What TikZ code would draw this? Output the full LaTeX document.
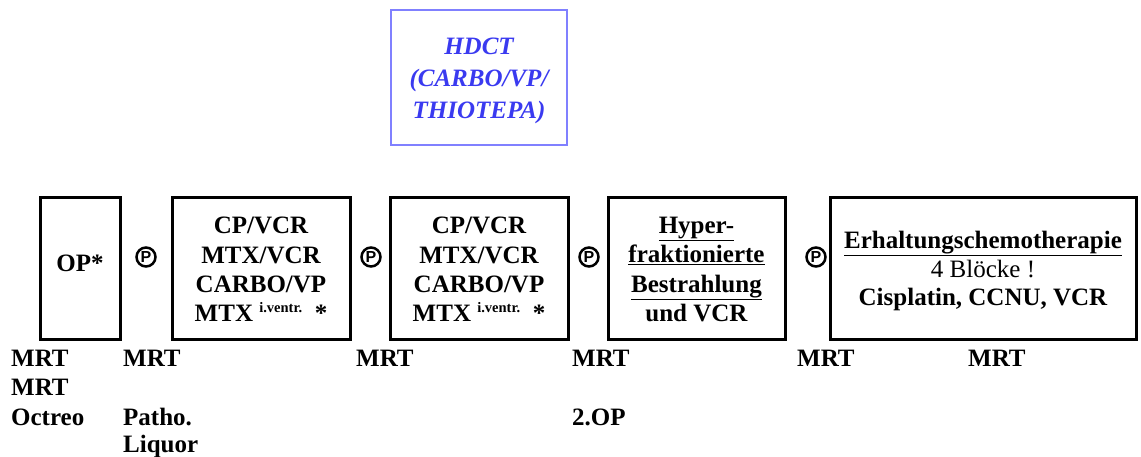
\documentclass[tikz,border=0pt]{standalone}
\usepackage{fontspec}
\setmainfont{Liberation Serif}
\setsansfont{Liberation Sans}
\definecolor{hdblue}{HTML}{3A3AF0}
\definecolor{hdframe}{HTML}{8080FF}
\begin{document}
\begin{tikzpicture}[x=1pt,y=-1pt,
  box/.style={draw=black, line width=3pt, inner sep=0pt, minimum height=142pt},
  boxtext/.style={inner sep=0pt, align=center,
    font=\fontsize{25}{29.3}\selectfont\bfseries},
  pmark/.style={circle, draw=black, line width=2.5pt, minimum size=19pt, inner sep=0pt,
    font=\fontsize{16}{16}\selectfont\sffamily\bfseries},
  lab/.style={anchor=west, inner sep=0pt, align=left,
    font=\fontsize{25}{29.5}\selectfont\bfseries}]
\newcommand{\iventr}{{\fontsize{14.5}{14.5}\selectfont\raisebox{9pt}{i.ventr.}}}
\useasboundingbox (0,0) rectangle (1141,456);
\node[draw=hdframe, line width=1.5pt, minimum width=176pt, minimum height=135pt,
  inner sep=0pt] (hdct) at (479,77.5) {};
\node[inner sep=0pt, align=center, text=hdblue,
  font=\fontsize{25}{32}\selectfont\bfseries\itshape] (hdcttext) at (479,80.5)
  {HDCT\\(CARBO/VP/\\THIOTEPA)};
\node[box, minimum width=80pt] (op) at (80,268) {};
\node[boxtext] (optext) at (80,263) {OP*};
\node[box, minimum width=178pt] (b2) at (261,268) {};
\node[boxtext] (b2text) at (261,269.5) {CP/VCR\\MTX/VCR\\CARBO/VP\\MTX\ \iventr\ \ *};
\node[box, minimum width=178pt] (b3) at (479,268) {};
\node[boxtext] (b3text) at (479,269.5) {CP/VCR\\MTX/VCR\\CARBO/VP\\MTX\ \iventr\ \ *};
\node[box, minimum width=177pt] (b4) at (696.5,268) {};
\node[boxtext] (b4text) at (696.5,269.5)
  {\underline{Hyper-}\\\underline{fraktionierte}\\\underline{Bestrahlung}\\und VCR};
\node[box, minimum width=306pt] (b5) at (983,268) {};
\node[boxtext, font=\fontsize{25}{28.5}\selectfont\bfseries] (b5text) at (983,271)
  {\underline{Erhaltungschemotherapie}\\{\mdseries 4 Blöcke !}\\Cisplatin, CCNU, VCR};
\node[pmark] (p1) at (146,257) {P};
\node[pmark] (p2) at (371,257) {P};
\node[pmark] (p3) at (589,257) {P};
\node[pmark] (p4) at (816,257) {P};
\node[lab] (l1) at (11,358) {MRT};
\node[lab] (l2) at (11,387.5) {MRT};
\node[lab] (l3) at (11,417) {Octreo};
\node[lab] (l4) at (123,358) {MRT};
\node[lab] (l5) at (123,417) {Patho.};
\node[lab] (l6) at (123,446.5) {Liquor};
\node[lab] (l7) at (356,358) {MRT};
\node[lab] (l8) at (572,358) {MRT};
\node[lab] (l9) at (572,417) {2.OP};
\node[lab] (l10) at (797,358) {MRT};
\node[lab] (l11) at (968,358) {MRT};
\end{tikzpicture}
\end{document}
